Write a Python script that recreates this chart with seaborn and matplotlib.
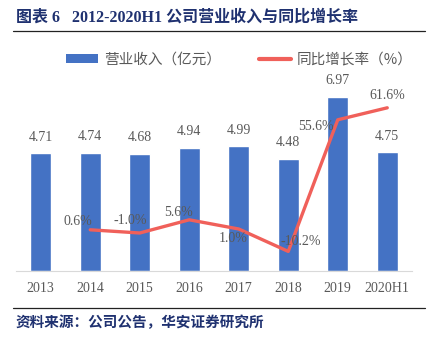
import matplotlib
matplotlib.use("Agg")
import matplotlib.pyplot as plt
import seaborn as sns
import pandas as pd
from matplotlib.patches import Patch
from matplotlib.lines import Line2D

years = ["2013", "2014", "2015", "2016", "2017", "2018", "2019", "2020H1"]
revenue = [4.71, 4.74, 4.68, 4.94, 4.99, 4.48, 6.97, 4.75]
growth_years = ["2014", "2015", "2016", "2017", "2018", "2019", "2020H1"]
growth = [0.6, -1.0, 5.6, 1.0, -10.2, 55.6, 61.6]
growth_labels = ["0.6%", "-1.0%", "5.6%", "1.0%", "-10.2%", "55.6%", "61.6%"]

title = "图表 6   2012-2020H1 公司营业收入与同比增长率"
source = "资料来源：公司公告，华安证券研究所"
legend_bar = "营业收入（亿元）"
legend_line = "同比增长率（%）"

sns.set_theme(style="white")
plt.rcParams['font.family'] = ['Liberation Serif', 'Noto Sans CJK SC', 'DejaVu Sans']

BLUE = "#4472C4"
RED = "#F0605A"
GRAY = "#595959"
NAVY = "#1F3170"

fig = plt.figure(figsize=(4.31, 3.37), dpi=100)
ax = fig.add_axes([16/431, 1-271/337, 396/431, 200/337])

df = pd.DataFrame({"year": years, "revenue": revenue})
sns.barplot(data=df, x="year", y="revenue", color=BLUE, width=0.42, ax=ax,
            saturation=1, order=years)
ax.set_xlim(-0.5, 7.5)
ax.set_ylim(0, 8)
for i, v in enumerate(revenue):
    ax.annotate(f"{v:.2f}", (i, v), xytext=(0, 7), textcoords="offset points",
                ha="center", va="bottom", fontsize=10, color=GRAY,
                family="Liberation Serif")
ax.set_yticks([])
ax.set_xlabel("")
ax.set_ylabel("")
ax.tick_params(axis="x", length=0, labelsize=10, colors=GRAY, pad=8)
for s in ["top", "right", "left"]:
    ax.spines[s].set_visible(False)
ax.spines["bottom"].set_color("#D9D9D9")
ax.spines["bottom"].set_linewidth(0.8)

ax2 = ax.twinx()
xpos = [years.index(y) for y in growth_years]
gdf = pd.DataFrame({"x": xpos, "g": growth})
sns.lineplot(data=gdf, x="x", y="g", color=RED, linewidth=2.4, ax=ax2)
ax2.set_ylim(-20, 80)
ax2.set_xlim(-0.5, 7.5)
ax2.set_yticks([])
ax2.set_ylabel("")
for s in ["top", "right", "left", "bottom"]:
    ax2.spines[s].set_visible(False)

offsets = [(-9, 6), (-7, 9), (-8, 5), (-4, -7), (9, 7), (-16, -5), (0, 9)]
for x, g, lab, off in zip(xpos, growth, growth_labels, offsets):
    ax2.annotate(lab, (x, g), xytext=off, textcoords="offset points",
                 ha="center", va="center", fontsize=10, color=GRAY,
                 family="Liberation Serif")

# legend
handles = [Patch(facecolor=BLUE, edgecolor="none"),
           Line2D([0], [0], color=RED, linewidth=3)]
fig.legend(handles, [legend_bar, legend_line], loc="center",
           bbox_to_anchor=(0.555, 1-60/337), ncol=2, frameon=False,
           prop={"family": ["Noto Sans CJK SC"], "size": 10.5},
           labelcolor=GRAY, handlelength=2.2, handleheight=0.6,
           columnspacing=2.6, handletextpad=0.4)

# title and source
fig.text(16/431, 1-18/337, title, ha="left", va="center", fontsize=11.5,
         fontweight="bold", color=NAVY,
         family=["Liberation Serif", "Noto Sans CJK SC"])
fig.add_artist(Line2D([13/431, 425/431], [1-31/337, 1-31/337], color="#222222", linewidth=0.9))
fig.add_artist(Line2D([13/431, 425/431], [1-308/337, 1-308/337], color="#222222", linewidth=0.9))
fig.text(16/431, 1-322/337, source, ha="left", va="center", fontsize=10.5,
         fontweight="bold", color=NAVY,
         family=["Noto Sans CJK SC"])

fig.savefig("out.png", dpi=100)
